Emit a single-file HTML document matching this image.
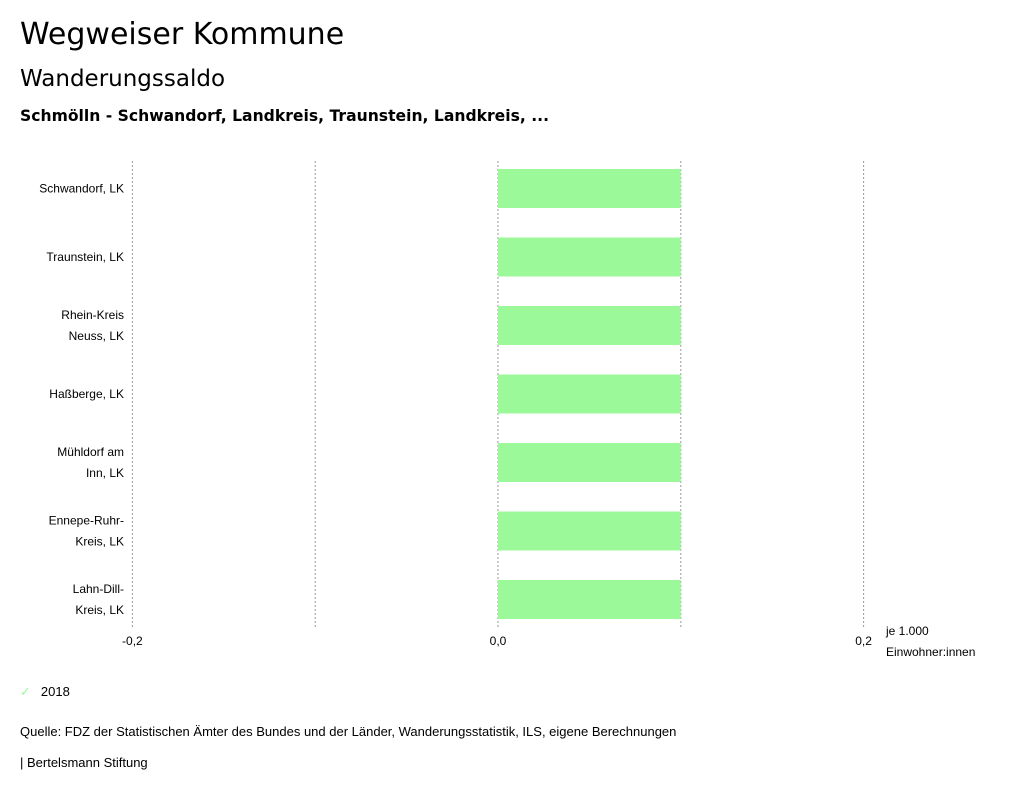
<!DOCTYPE html>
<html><head><meta charset="utf-8"><style>
body{margin:0;width:1024px;height:795px;background:#fff;font-family:"Liberation Sans","DejaVu Sans",sans-serif;color:#000;position:relative;overflow:hidden}
.t{position:absolute;white-space:nowrap}
.d{font-family:"DejaVu Sans",sans-serif}
</style></head><body>
<div class="t d" style="left:20px;top:17px;font-size:30px">Wegweiser Kommune</div>
<div class="t d" style="left:20px;top:66px;font-size:23px">Wanderungssaldo</div>
<div class="t d" style="left:20px;top:107px;font-size:15.6px;font-weight:bold">Schmölln - Schwandorf, Landkreis, Traunstein, Landkreis, ...</div>
<svg id="chart" width="1024" height="680" style="position:absolute;left:0;top:0"></svg>
<div class="t" style="left:20px;top:684px;font-size:13px"><span style="color:#9cf99a;margin-right:10px">✓</span>2018</div>
<div class="t" style="left:20px;top:724px;font-size:13px">Quelle: FDZ der Statistischen Ämter des Bundes und der Länder, Wanderungsstatistik, ILS, eigene Berechnungen</div>
<div class="t" style="left:20px;top:755px;font-size:13px">| Bertelsmann Stiftung</div>
<script>
const categories=[["Schwandorf, LK"],["Traunstein, LK"],["Rhein-Kreis","Neuss, LK"],["Haßberge, LK"],["Mühldorf am","Inn, LK"],["Ennepe-Ruhr-","Kreis, LK"],["Lahn-Dill-","Kreis, LK"]];
const values2018=[0.1,0.1,0.1,0.1,0.1,0.1,0.1];
const ticks=[-0.2,-0.1,0,0.1,0.2];
const tickLabels=["-0,2","","0,0","","0,2"];
const svg=document.getElementById('chart');const NS="http://www.w3.org/2000/svg";
const x=v=>498+(v)*1828;
const top0=161,bottom=628,step=68.5,firstC=188.5,bh=39;
function el(t,a){const e=document.createElementNS(NS,t);for(const k in a)e.setAttribute(k,a[k]);svg.appendChild(e);return e;}
ticks.forEach((t,i)=>{
 const g=el('line',{x1:x(t),x2:x(t),y1:top0,y2:bottom,stroke:'#999','stroke-dasharray':'2,2','stroke-width':1});
 
 
 if(tickLabels[i]){const tx=el('text',{x:x(t),y:645,'text-anchor':'middle','font-size':12,'font-family':'Liberation Sans, sans-serif'});tx.textContent=tickLabels[i];
 
 }
});
categories.forEach((c,i)=>{
 const yc=firstC+step*i;
 const v=values2018[i];
 const r=el('rect',{x:Math.min(x(0),x(v)),y:yc-bh/2,width:Math.abs(x(v)-x(0)),height:bh,fill:'#9cf99a'});
 
 
 c.forEach((line,j)=>{
  const ty=yc+4+(j-(c.length-1)/2)*21;
  const tx=el('text',{x:124,y:ty,'text-anchor':'end','font-size':12,'font-family':'Liberation Sans, sans-serif'});tx.textContent=line;
  
  
 });
});
[["je 1.000",635],["Einwohner:innen",656]].forEach(([s,y])=>{const t=el('text',{x:886,y:y,'font-size':12,'font-family':'Liberation Sans, sans-serif'});t.textContent=s;

});
</script>
</body></html>
